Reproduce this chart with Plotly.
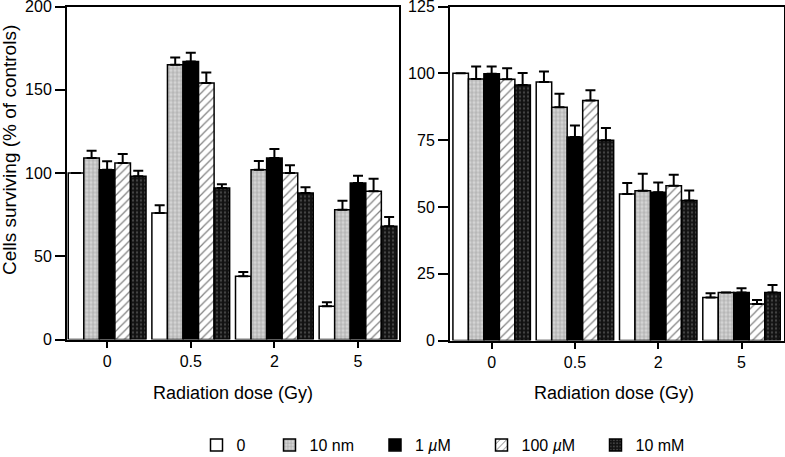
import plotly.graph_objects as go

doses = ["0", "0.5", "2", "5"]
series = ["0", "10 nm", "1 <i>µ</i>M", "100 <i>µ</i>M", "10 mM"]

left_vals = [
    [100, 76, 38, 20],
    [109, 165, 102, 78],
    [102, 167, 109, 94],
    [106, 154, 100, 89],
    [98, 91, 88, 68],
]
left_errs = [
    [None, 4.6, 2.6, 2.4],
    [4.4, 4.4, 5.2, 5.4],
    [5.0, 5.2, 5.4, 4.4],
    [5.4, 6.4, 4.6, 7.6],
    [3.4, 2.2, 3.4, 5.5],
]
right_vals = [
    [100, 96.7, 54.8, 16.1],
    [97.9, 87.3, 56.0, 18.0],
    [99.8, 76.2, 55.5, 18.0],
    [97.8, 89.8, 57.9, 13.7],
    [95.6, 74.9, 52.4, 18.0],
]
right_errs = [
    [None, 4.0, 4.1, 1.6],
    [4.6, 5.0, 6.4, None],
    [2.7, 4.3, 3.6, 1.6],
    [4.1, 3.9, 4.1, 1.5],
    [4.5, 4.6, 3.7, 2.8],
]
left_yticks = [0, 50, 100, 150, 200]
right_yticks = [0, 25, 50, 75, 100, 125]

patterns = [
    dict(shape="", bgcolor="white"),
    dict(shape="+", bgcolor="#d4d4d4", fgcolor="#7a7a7a", size=4, solidity=0.35),
    dict(shape="", bgcolor="black"),
    dict(shape="/", bgcolor="white", fgcolor="black", size=6, solidity=0.2),
    dict(shape=".", bgcolor="#121212", fgcolor="#7a7a7a", size=4, solidity=0.25),
]
colors = ["white", "#d4d4d4", "black", "white", "#121212"]

W, H = 785, 457
FONT = "Liberation Sans, Arial, Helvetica, sans-serif"

fig = go.Figure()
legend_centers = [216.5, 289.5, 395, 501.5, 615.5]

for i, name in enumerate(series):
    for panel, vals, errs, xa, ya in [
        (0, left_vals, left_errs, "x", "y"),
        (1, right_vals, right_errs, "x2", "y2"),
    ]:
        e = errs[i]
        fig.add_trace(go.Bar(
            x=doses, y=vals[i], name=name,
            xaxis=xa, yaxis=ya,
            marker=dict(color=colors[i], line=dict(color="black", width=1.5),
                        pattern=patterns[i]),
            error_y=dict(type="data", array=[v if v is not None else float("nan") for v in e],
                         arrayminus=[0] * len(e), symmetric=False,
                         color="black", thickness=2, width=5),
            showlegend=(panel == 0),
            legend=("legend" if i == 0 else f"legend{i+1}"),
        ))

axis_common = dict(
    showline=True, linecolor="black", linewidth=2, mirror=True,
    ticks="outside", tickcolor="black", tickwidth=2,
    showgrid=False, zeroline=False, automargin=False,
    ticklabeloverflow="allow",
    tickfont=dict(family=FONT, size=16, color="black"),
)

fig.update_layout(
    width=W, height=H,
    margin=dict(l=0, r=0, t=0, b=0, autoexpand=False),
    plot_bgcolor="white", paper_bgcolor="white",
    barmode="group", bargap=0.07, bargroupgap=0,
    font=dict(family=FONT, size=15, color="black"),
    xaxis=dict(domain=[67 / W, 399 / W], type="category", range=[-0.48, 3.49],
               ticklen=6, **axis_common),
    yaxis=dict(domain=[1 - 339.5 / H, 1 - 6.5 / H], range=[0, 200],
               tickvals=left_yticks, ticklen=10, **axis_common),
    xaxis2=dict(domain=[450 / W, 784 / W], type="category", range=[-0.5, 3.51],
                ticklen=6, anchor="y2", **axis_common),
    yaxis2=dict(domain=[1 - 340.5 / H, 1 - 6.5 / H], range=[0, 125],
                tickvals=right_yticks, ticklen=10, anchor="x2", **axis_common),
)

for i in range(5):
    key = "legend" if i == 0 else f"legend{i+1}"
    fig.update_layout({key: dict(
        x=(legend_centers[i] - 20) / W, xanchor="left",
        y=1 - 445 / H, yanchor="middle",
        orientation="h", bgcolor="rgba(0,0,0,0)", borderwidth=0,
        font=dict(family=FONT, size=16, color="black"),
        itemclick=False, itemdoubleclick=False,
    )})

for cx in (233, 614):
    fig.add_annotation(text="Radiation dose (Gy)", xref="paper", yref="paper",
                       x=cx / W, y=1 - 393 / H, xanchor="center", yanchor="middle",
                       showarrow=False, font=dict(family=FONT, size=18, color="black"))
fig.add_annotation(text="Cells surviving (% of controls)", xref="paper", yref="paper",
                   x=10 / W, y=1 - 150 / H, xanchor="center", yanchor="middle",
                   showarrow=False, textangle=-90,
                   font=dict(family=FONT, size=19, color="black"))

fig.write_html("out.html", config={"displayModeBar": False},
               post_script="document.body.style.margin='0';")
